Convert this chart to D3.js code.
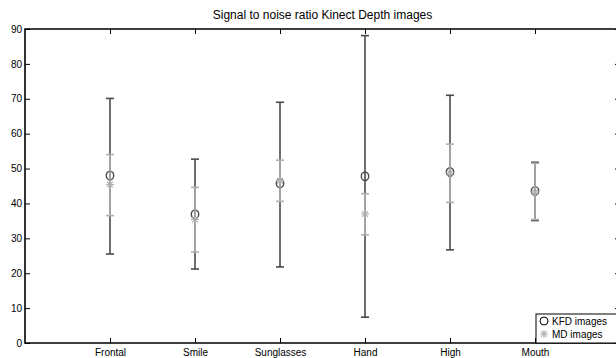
<!DOCTYPE html>
<meta charset="utf-8" />
<title>Signal to noise ratio Kinect Depth images</title>
<style>
  body { margin: 0; background: #fff; }
  svg { display: block; font-family: "Liberation Sans", Arial, sans-serif; }
  .tick text { font-size: 10px; fill: #000; }
</style>
<body>
  <script src="https://d3js.org/d3.v7.min.js"></script>
  <script>
    var categories = ["Frontal", "Smile", "Sunglasses", "Hand", "High", "Mouth"];
    var yTicks = [0, 10, 20, 30, 40, 50, 60, 70, 80, 90];

    // KFD images: mean, lower, upper
    var kfdMean = [48.0, 36.9, 45.8, 47.8, 49.0, 43.6];
    var kfdLow = [25.5, 21.2, 21.8, 7.4, 26.7, 35.1];
    var kfdHigh = [70.1, 52.7, 69.0, 88.1, 71.0, 51.8];

    // MD images: mean, lower, upper
    var mdMean = [45.4, 35.4, 46.5, 37.0, 48.8, 43.3];
    var mdLow = [36.5, 26.1, 40.6, 31.0, 40.3, 35.4];
    var mdHigh = [54.0, 44.6, 52.4, 42.8, 57.0, 51.5];

    var width = 616,
      height = 358,
      margin = { top: 29, right: -4, bottom: 15, left: 25 };

    var svg = d3
      .select("body")
      .append("svg")
      .attr("width", width)
      .attr("height", height);

    var x = d3
      .scaleLinear()
      .domain([0, categories.length + 1])
      .range([margin.left, width - margin.right]);

    var y = d3
      .scaleLinear()
      .domain([0, 90])
      .range([height - margin.bottom, margin.top]);

    var xPos = function (i) {
      return x(i + 1);
    };

    // ticks (inward, matlab style)
    svg
      .append("g")
      .attr("transform", "translate(" + margin.left + ",0)")
      .call(d3.axisLeft(y).tickValues(yTicks).tickSize(-5).tickPadding(3))
      .call(function (g) { g.select(".domain").remove(); });

    svg
      .append("g")
      .attr("transform", "translate(" + (width - margin.right) + ",0)")
      .call(d3.axisLeft(y).tickValues(yTicks).tickSize(5).tickFormat(""))
      .call(function (g) { g.select(".domain").remove(); });

    var xAxis = d3
      .axisBottom(x)
      .tickValues(d3.range(1, categories.length + 1))
      .tickFormat(function (d) { return categories[d - 1]; });

    svg
      .append("g")
      .attr("transform", "translate(0," + y(0) + ")")
      .call(xAxis.tickSize(-5).tickPadding(6))
      .call(function (g) { g.select(".domain").remove(); });

    svg
      .append("g")
      .attr("transform", "translate(0," + y(90) + ")")
      .call(d3.axisBottom(x).tickValues(d3.range(1, categories.length + 1)).tickSize(5).tickFormat(""))
      .call(function (g) { g.select(".domain").remove(); });

    svg.selectAll(".tick line").attr("stroke", "#000");

    // box
    svg
      .append("path")
      .attr(
        "d",
        "M" + x.range()[1] + "," + y(90) + "H" + margin.left + "V" + y(0) + "H" + x.range()[1]
      )
      .attr("fill", "none")
      .attr("stroke", "#000")
      .attr("stroke-width", 1.6);

    function drawSeries(mean, low, high, color) {
      var g = svg.append("g").attr("stroke", color).attr("stroke-width", 1.6).attr("fill", "none");
      categories.forEach(function (c, i) {
        var cx = xPos(i);
        g.append("line")
          .attr("x1", cx).attr("x2", cx)
          .attr("y1", y(low[i])).attr("y2", y(high[i]));
        g.append("line")
          .attr("x1", cx - 4).attr("x2", cx + 4)
          .attr("y1", y(low[i])).attr("y2", y(low[i]));
        g.append("line")
          .attr("x1", cx - 4).attr("x2", cx + 4)
          .attr("y1", y(high[i])).attr("y2", y(high[i]));
      });
      return g;
    }

    function star(g, cx, cy, r) {
      for (var k = 0; k < 4; k++) {
        var a = (k * Math.PI) / 4;
        g.append("line")
          .attr("x1", cx - r * Math.cos(a)).attr("x2", cx + r * Math.cos(a))
          .attr("y1", cy - r * Math.sin(a)).attr("y2", cy + r * Math.sin(a))
          .attr("stroke-width", 1.2);
      }
    }

    var kfdColor = "#4a4a4a",
      mdColor = "#b0b0b0";

    var gK = drawSeries(kfdMean, kfdLow, kfdHigh, kfdColor);
    kfdMean.forEach(function (v, i) {
      gK.append("ellipse")
        .attr("cx", xPos(i)).attr("cy", y(v))
        .attr("rx", 3.7).attr("ry", 4.3)
        .attr("stroke-width", 1.4);
    });

    var gM = drawSeries(mdMean, mdLow, mdHigh, mdColor);
    mdMean.forEach(function (v, i) {
      star(gM, xPos(i), y(v), 4);
    });

    // title
    svg
      .append("text")
      .attr("x", (margin.left + x.range()[1]) / 2)
      .attr("y", 19)
      .attr("text-anchor", "middle")
      .attr("font-size", 12)
      .text("Signal to noise ratio Kinect Depth images");

    // legend
    var lg = svg.append("g").attr("transform", "translate(536,314)");
    lg.append("rect")
      .attr("width", 90).attr("height", y(0) - 314)
      .attr("fill", "#fff").attr("stroke", "#000").attr("stroke-width", 1);
    lg.append("circle")
      .attr("cx", 8).attr("cy", 7).attr("r", 4)
      .attr("fill", "none").attr("stroke", "#000").attr("stroke-width", 1);
    var gl = lg.append("g").attr("stroke", mdColor).attr("fill", "none");
    star(gl, 8, 20, 4);
    lg.append("text").attr("x", 16).attr("y", 11).attr("font-size", 10).text("KFD images");
    lg.append("text").attr("x", 16).attr("y", 24).attr("font-size", 10).text("MD images");
  </script>
</body>
